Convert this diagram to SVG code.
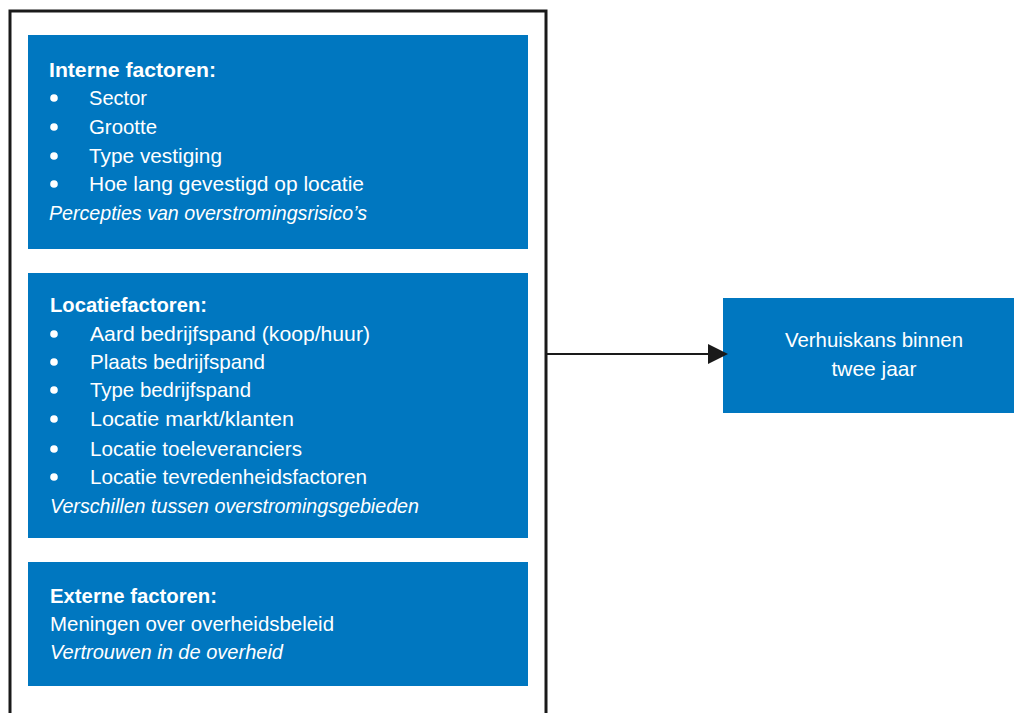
<svg xmlns="http://www.w3.org/2000/svg" width="1014" height="713" viewBox="0 0 1014 713">
<defs>
<style>
.box{fill:#0077c0;}
.t{font-family:"Liberation Sans",Arial,sans-serif;font-size:21px;fill:#ffffff;}
.b{font-weight:bold;}
.i{font-style:italic;}
.frame{fill:none;stroke:#1a1a1a;stroke-width:3;}
.conn{stroke:#1a1a1a;stroke-width:2;fill:none;}
</style>
</defs>
<rect width="1014" height="713" fill="#ffffff"/>
<g id="frame"><rect class="frame" x="10" y="11" width="536" height="720"/></g>

<g id="interne">
<rect class="box" x="28" y="35" width="500" height="214"/>
<text class="t b" x="49" y="77" textLength="167" lengthAdjust="spacingAndGlyphs">Interne factoren:</text>
<g fill="#ffffff"><circle cx="54" cy="98" r="3.8"/><circle cx="54" cy="127" r="3.8"/><circle cx="54" cy="156" r="3.8"/><circle cx="54" cy="184" r="3.8"/></g>
<text class="t" x="89" y="105" textLength="58" lengthAdjust="spacingAndGlyphs">Sector</text>
<text class="t" x="89" y="134" textLength="68" lengthAdjust="spacingAndGlyphs">Grootte</text>
<text class="t" x="89" y="163" textLength="133" lengthAdjust="spacingAndGlyphs">Type vestiging</text>
<text class="t" x="89" y="191" textLength="275" lengthAdjust="spacingAndGlyphs">Hoe lang gevestigd op locatie</text>
<text class="t i" x="49" y="220" textLength="318" lengthAdjust="spacingAndGlyphs">Percepties van overstromingsrisico’s</text>
</g>

<g id="locatie">
<rect class="box" x="28" y="273" width="500" height="265"/>
<text class="t b" x="50" y="312" textLength="157" lengthAdjust="spacingAndGlyphs">Locatiefactoren:</text>
<g fill="#ffffff"><circle cx="54" cy="334" r="3.8"/><circle cx="54" cy="362" r="3.8"/><circle cx="54" cy="390" r="3.8"/><circle cx="54" cy="419" r="3.8"/><circle cx="54" cy="449" r="3.8"/><circle cx="54" cy="477" r="3.8"/></g>
<text class="t" x="90" y="341" textLength="280" lengthAdjust="spacingAndGlyphs">Aard bedrijfspand (koop/huur)</text>
<text class="t" x="90" y="369" textLength="175" lengthAdjust="spacingAndGlyphs">Plaats bedrijfspand</text>
<text class="t" x="90" y="397" textLength="161" lengthAdjust="spacingAndGlyphs">Type bedrijfspand</text>
<text class="t" x="90" y="426" textLength="204" lengthAdjust="spacingAndGlyphs">Locatie markt/klanten</text>
<text class="t" x="90" y="456" textLength="212" lengthAdjust="spacingAndGlyphs">Locatie toeleveranciers</text>
<text class="t" x="90" y="484" textLength="277" lengthAdjust="spacingAndGlyphs">Locatie tevredenheidsfactoren</text>
<text class="t i" x="50" y="513" textLength="369" lengthAdjust="spacingAndGlyphs">Verschillen tussen overstromingsgebieden</text>
</g>

<g id="externe">
<rect class="box" x="28" y="562" width="500" height="124"/>
<text class="t b" x="50" y="603" textLength="167" lengthAdjust="spacingAndGlyphs">Externe factoren:</text>
<text class="t" x="50" y="631" textLength="284" lengthAdjust="spacingAndGlyphs">Meningen over overheidsbeleid</text>
<text class="t i" x="50" y="659" textLength="233" lengthAdjust="spacingAndGlyphs">Vertrouwen in de overheid</text>
</g>

<g id="verhuiskans">
<rect class="box" x="723" y="298" width="300" height="115"/>
<text class="t" x="874" y="347" text-anchor="middle" textLength="178" lengthAdjust="spacingAndGlyphs">Verhuiskans binnen</text>
<text class="t" x="874" y="376" text-anchor="middle" textLength="85" lengthAdjust="spacingAndGlyphs">twee jaar</text>
</g>

<g id="connectors">
<line class="conn" x1="547" y1="354" x2="708" y2="354"/>
<path d="M708,344 L728,354 L708,364 Z" fill="#1a1a1a"/>
</g>
</svg>
